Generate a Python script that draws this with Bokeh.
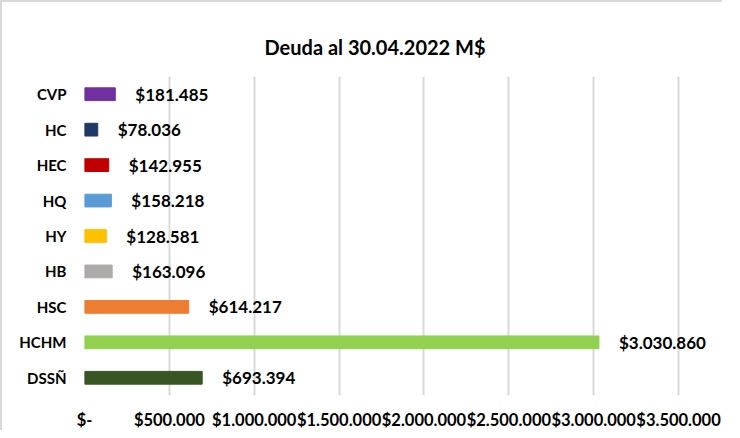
from bokeh.plotting import figure
from bokeh.models import ColumnDataSource, FactorRange, Range1d, FixedTicker
from bokeh.core.properties import value
from bokeh.embed import file_html
from bokeh.resources import INLINE

title = "Deuda al 30.04.2022 M$"
categories = ["CVP", "HC", "HEC", "HQ", "HY", "HB", "HSC", "HCHM", "DSSÑ"]
values = [181485, 78036, 142955, 158218, 128581, 163096, 614217, 3030860, 693394]
colors = ["#7030A0", "#203864", "#C00000", "#5B9BD5", "#FFC000", "#AEAAAA", "#ED7D31", "#92D050", "#375623"]
x_ticks = [0, 500000, 1000000, 1500000, 2000000, 2500000, 3000000, 3500000]


def fmt(v):
    if v == 0:
        return "$-"
    return "$" + f"{v:,}".replace(",", ".")


labels = [fmt(v) for v in values]
src = ColumnDataSource(dict(cat=categories, val=values, color=colors, label=labels))

FONT = "Lato"

p = figure(width=722, height=430, output_backend="svg", toolbar_location=None,
           y_range=FactorRange(*reversed(categories)), x_range=Range1d(0, 3700000),
           min_border_left=82, min_border_right=12, min_border_top=74, min_border_bottom=25)
p.styles = {"border-left": "2px solid #d9d9d9", "border-top": "2px solid #d9d9d9"}

p.title.text = title
p.title.align = "left"
p.title.offset = 180
p.title.text_font = FONT
p.title.text_font_size = "20px"
p.title.text_font_style = "bold"
p.title.text_color = "#000000"
p.title.standoff = 36

p.hbar(y="cat", right="val", left=0, height=0.36, color="color", source=src)
p.text(x="val", y="cat", text="label", source=src, x_offset=20,
       text_baseline="middle", text_align="left", text_font=value(FONT),
       text_font_size="17px", text_font_style="bold", text_color="#000000")

p.outline_line_color = None
p.ygrid.grid_line_color = None
p.xgrid.grid_line_color = "#d9d9d9"
p.xgrid.grid_line_width = 2
p.xaxis.ticker = FixedTicker(ticks=x_ticks)
p.xaxis.major_label_overrides = {t: fmt(t) for t in x_ticks}

for ax in (p.xaxis, p.yaxis):
    ax.axis_line_color = None
    ax.major_tick_line_color = None
    ax.minor_tick_line_color = None
    ax.major_label_text_font = FONT
    ax.major_label_text_font_style = "bold"
    ax.major_label_text_color = "#000000"
p.xaxis.major_label_text_font_size = "16.5px"
p.xaxis.major_label_standoff = 8
p.yaxis.major_label_text_font_size = "15px"
p.yaxis.major_label_standoff = 12

open("out.html", "w").write(file_html(p, INLINE))
